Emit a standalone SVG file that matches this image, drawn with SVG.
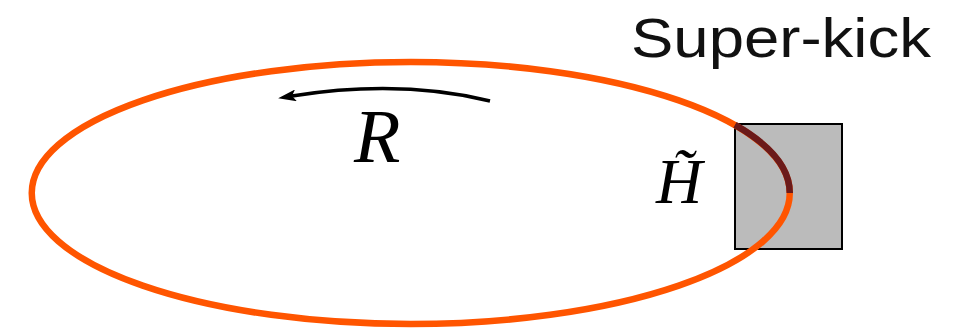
<svg xmlns="http://www.w3.org/2000/svg" width="961" height="329" viewBox="0 0 961 329">
<style>
.orbit{fill:none;stroke:#ff5500;stroke-width:6.5}
.kickarc{fill:none;stroke:#6b1a1a;stroke-width:6.5}
.box{fill:#bbbbbb;stroke:#000;stroke-width:2}
.math{font-family:"Liberation Serif",serif;font-style:italic;fill:#000}
.label{font-family:"Liberation Sans",Arial,sans-serif;fill:#111}
.arrow{fill:none;stroke:#000;stroke-width:3.5}
</style>
<defs>
<marker id="ah" viewBox="0 0 18 12" refX="4" refY="6" markerWidth="18" markerHeight="12" orient="auto" markerUnits="userSpaceOnUse">
<path d="M0,0 L18,6 L0,12 L4,6 Z" fill="#000"/>
</marker>
</defs>
<g id="kick-box">
<rect class="box" x="735" y="124" width="107" height="125"/>
</g>
<g id="orbit">
<ellipse class="orbit" cx="410.75" cy="193" rx="379" ry="131"/>
<path class="kickarc" d="M735,124.9 A379,131 0 0 1 789.75,193"/>
</g>
<g id="connectors">
<path class="arrow" d="M490,101 Q400,79 292,96" marker-end="url(#ah)"/>
</g>
<g id="labels">
<text class="label" x="631" y="57" font-size="55" textLength="300" lengthAdjust="spacingAndGlyphs">Super-kick</text>
<text class="math" x="354" y="162" font-size="76">R</text>
<text class="math" x="656" y="203" font-size="64">H̃</text>
</g>
</svg>
